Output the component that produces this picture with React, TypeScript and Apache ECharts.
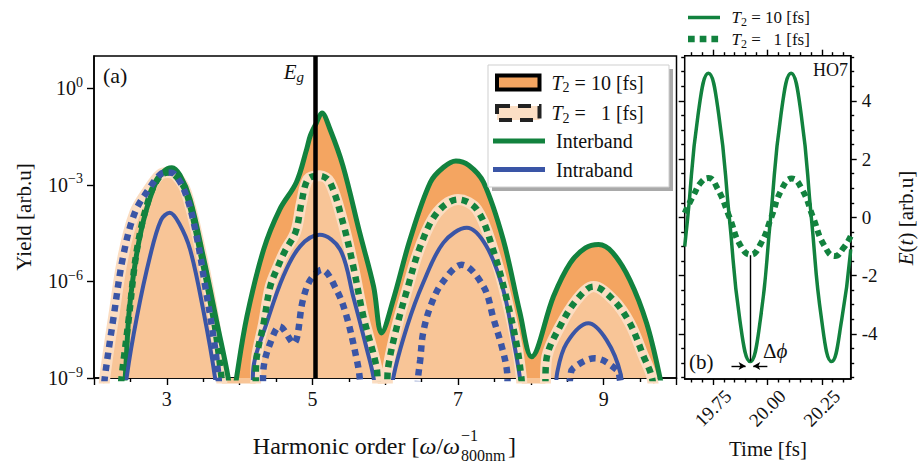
import React, { useEffect, useRef } from 'react';
import * as echarts from 'echarts';

const FONT = "'Liberation Serif', 'DejaVu Serif', serif";
const TXT = '#111';
const GREEN = '#12823E';
const BLUE = '#3A55A6';
const ORANGE = '#F4A561';
const PEACH = '#F8C597';
const PEACH_EDGE = '#FBDDC2';

// ---------- panel (a): harmonic spectrum ----------
const harmonicLabels = [3, 5, 7, 9];
const harmonicMajorTicks = [2, 3, 4, 5, 6, 7, 8, 9, 10];
const harmonicMinorTicks = [2.5, 3.5, 4.5, 5.5, 6.5, 7.5, 8.5, 9.5];
const yieldTicks = [1e-9, 1e-6, 1e-3, 1];
const egHarmonic = 5.04;

// Interband, T2 = 10 fs (solid green, also edge of the dark-orange fill)
const interbandT10: [number, number][] = [
  [2.41, 3e-10], [2.43, 1.1e-9], [2.49, 1.7e-7], [2.63, 2.5e-5], [2.81, 7.2e-4], [2.95, 2.5e-3],
  [3.07, 3.4e-3], [3.18, 2.0e-3], [3.32, 3.5e-4], [3.5, 6.0e-6], [3.69, 5.0e-8], [3.84, 1.1e-9],
  [3.9, 1e-10], [3.96, 1.1e-9], [4.1, 8.1e-8], [4.33, 9.8e-6], [4.55, 1.7e-4], [4.78, 1.2e-3],
  [4.92, 1.26e-2], [4.97, 3.3e-2], [5.05, 8e-2], [5.13, 1.7e-1], [5.24, 5.4e-2], [5.42, 3.8e-3],
  [5.65, 3.2e-5], [5.84, 6.9e-7], [5.95, 2.5e-8], [6.11, 2.7e-7], [6.34, 2.0e-5], [6.62, 1.2e-3],
  [6.8, 3.5e-3], [6.97, 5.5e-3], [7.15, 4.0e-3], [7.35, 1.2e-3], [7.62, 2.0e-5], [7.85, 1.05e-7],
  [8.01, 4.6e-9], [8.31, 3.4e-7], [8.54, 3.7e-6], [8.75, 1.1e-5], [8.93, 1.4e-5], [9.12, 8.0e-6],
  [9.36, 1.1e-6], [9.59, 5.0e-8], [9.77, 1.1e-9], [9.82, 2e-10],
];

// Interband, T2 = 1 fs (dotted green)
const interbandT1: [number, number][] = [
  [2.36, 3e-10], [2.38, 1.1e-9], [2.47, 5.0e-8], [2.59, 9.8e-6], [2.75, 3.5e-4], [2.9, 1.8e-3],
  [3.02, 2.4e-3], [3.14, 1.7e-3], [3.27, 5.6e-4], [3.46, 9.8e-6], [3.64, 8.1e-8], [3.75, 1.1e-9],
  [3.78, 2e-10],
  [4.2, 3e-10], [4.235, 4.6e-9], [4.33, 5.0e-8], [4.42, 6.9e-7], [4.53, 3.0e-6], [4.62, 8.5e-6],
  [4.77, 3.5e-5], [4.85, 2.8e-4], [4.94, 1.5e-3], [5.1, 1.9e-3], [5.24, 1.2e-3], [5.42, 6.6e-5],
  [5.56, 3.0e-6], [5.7, 8.1e-8], [5.88, 2.2e-9], [5.92, 3e-10],
  [6.01, 3e-10], [6.04, 2.2e-9], [6.16, 4.0e-8], [6.3, 5.5e-7], [6.48, 1.2e-5], [6.71, 1.35e-4],
  [7.0, 3.5e-4], [7.26, 1.7e-4], [7.48, 9.8e-6], [7.67, 2.7e-7], [7.81, 9.5e-9], [7.87, 1e-9],
  [7.9, 2e-10],
  [8.18, 2e-10], [8.22, 4.6e-9], [8.4, 4.0e-8], [8.63, 2.7e-7], [8.86, 6.9e-7], [9.13, 2.7e-7],
  [9.36, 5.0e-8], [9.55, 4.6e-9], [9.66, 1.1e-9], [9.7, 2e-10],
];

// Intraband, T2 = 10 fs (solid blue)
const intrabandT10: [number, number][] = [
  [2.43, 2e-10], [2.45, 1.1e-9], [2.59, 8.1e-8], [2.77, 6.0e-6], [2.92, 8e-5], [3.04, 1.35e-4],
  [3.17, 6.3e-5], [3.32, 9.8e-6], [3.5, 1.3e-7], [3.66, 1.1e-9], [3.68, 2e-10],
  [4.17, 2e-10], [4.19, 2.2e-9], [4.37, 5.0e-8], [4.6, 1.45e-6], [4.83, 1.23e-5], [5.1, 2.8e-5],
  [5.38, 9.8e-6], [5.56, 3.4e-7], [5.75, 7.4e-9], [5.84, 1e-9], [5.86, 2e-10],
  [6.09, 2e-10], [6.11, 1e-9], [6.3, 4.0e-8], [6.52, 8.9e-7], [6.8, 1.6e-5], [7.12, 4.6e-5],
  [7.39, 1.23e-5], [7.62, 5.5e-7], [7.76, 1.5e-8], [7.85, 1e-9], [7.87, 2e-10],
  [8.33, 2e-10], [8.36, 1.4e-9], [8.49, 1.2e-8], [8.79, 5.0e-8], [9.04, 1.5e-8], [9.23, 1.4e-9],
  [9.26, 2e-10],
];

// Intraband, T2 = 1 fs (dotted blue)
const intrabandT1: [number, number][] = [
  [2.13, 3e-10], [2.15, 1.1e-9], [2.27, 8.1e-8], [2.4, 6.0e-6], [2.56, 1.35e-4], [2.75, 7.2e-4],
  [2.91, 2.1e-3], [3.01, 2.4e-3], [3.11, 2.1e-3], [3.27, 4.5e-4], [3.41, 2.5e-5], [3.52, 8.9e-7],
  [3.64, 1.95e-8], [3.71, 1.1e-9], [3.73, 2e-10],
  [4.31, 2e-10], [4.33, 2.2e-9], [4.42, 1.2e-8], [4.55, 4.0e-8], [4.74, 1.2e-8], [4.87, 2.7e-7],
  [4.97, 1.1e-6], [5.13, 2.3e-6], [5.33, 5.5e-7], [5.47, 8.1e-8], [5.61, 3.6e-9], [5.65, 1e-9],
  [5.67, 2e-10],
  [6.43, 2e-10], [6.45, 1e-9], [6.48, 3.6e-9], [6.52, 2.5e-8], [6.62, 1.66e-7], [6.78, 8.9e-7],
  [7.05, 3.3e-6], [7.35, 6.9e-7], [7.49, 6.5e-8], [7.6, 9.5e-9], [7.67, 1.8e-9], [7.7, 2e-10],
  [8.5, 2e-10], [8.54, 1e-9], [8.58, 2e-9], [8.88, 4.1e-9], [9.18, 1.8e-9], [9.22, 1e-9],
  [9.25, 2e-10],
];

// Total yield envelope for T2 = 1 fs around HO3 (light peach fill)
const totalT1Ho3: [number, number][] = [
  [2.13, 3e-10], [2.15, 1.1e-9], [2.27, 8.1e-8], [2.4, 6.0e-6], [2.56, 1.35e-4], [2.75, 7.2e-4],
  [2.91, 2.1e-3], [3.02, 2.4e-3], [3.14, 1.8e-3], [3.27, 5.6e-4], [3.46, 9.8e-6], [3.64, 8.1e-8],
  [3.75, 1.1e-9], [3.78, 2e-10],
];

// ---------- panel (b): HO7 field ----------
const timeTicks = [19.75, 20.0, 20.25];
const timeMinorTicks = [19.65, 19.7, 19.8, 19.85, 19.9, 19.95, 20.05, 20.1, 20.15, 20.2, 20.3, 20.35];
const fieldTicks = [-4, -2, 0, 2, 4];
const fieldMinorTicks = [-5.5, -5, -4.5, -3.5, -3, -2.5, -1.5, -1, -0.5, 0.5, 1, 1.5, 2.5, 3, 3.5, 4.5, 5, 5.5];

const fieldT10: [number, number][] = [
  [19.62, -1.0], [19.634, 0], [19.681, 3.5], [19.729, 4.95], [19.777, 3.5], [19.825, 0],
  [19.873, -3.5], [19.921, -4.95], [19.968, -3.5], [20.015, 0], [20.062, 3.5], [20.109, 4.95],
  [20.156, 3.5], [20.202, 0], [20.249, -3.5], [20.295, -4.95], [20.342, -3.5], [20.383, -1.1],
];
const fieldT1: [number, number][] = [
  [19.62, 0.15], [19.66, 0.75], [19.695, 1.2], [19.729, 1.35], [19.77, 1.0], [19.826, 0],
  [19.875, -0.95], [19.923, -1.28], [19.97, -0.9], [20.018, 0], [20.065, 0.95], [20.112, 1.33],
  [20.16, 0.95], [20.21, 0], [20.26, -0.95], [20.311, -1.33], [20.35, -1.05], [20.383, -0.65],
];
const dphiTime = 19.923;

const line = { color: '#000', width: 1.4 };

function hiddenAxisBase(extra: any) {
  return {
    type: 'value',
    axisLine: { show: false, onZero: false },
    axisLabel: { show: false },
    splitLine: { show: false },
    ...extra,
  };
}

const tSub = (sz: number) => ({
  i: { fontFamily: FONT, fontStyle: 'italic', fontSize: sz, fill: TXT, lineHeight: sz + 4 },
  s: { fontFamily: FONT, fontSize: Math.round(sz * 0.7), fill: TXT, verticalAlign: 'bottom', lineHeight: Math.round(sz * 0.7) },
  n: { fontFamily: FONT, fontSize: sz, fill: TXT, lineHeight: sz + 4 },
});

function txt(x: number, y: number, text: string, size: number, extra: any = {}, rotation = 0) {
  return {
    type: 'text', x, y, z: 110, rotation,
    style: { text, fontFamily: FONT, fontSize: size, fill: TXT, align: 'left', verticalAlign: 'middle', ...extra },
  };
}

const graphics: any[] = [
  // legend (a)
  { type: 'rect', z: 100, shape: { x: 492, y: 69, width: 181, height: 122 }, style: { fill: '#a9a9a9' } },
  { type: 'rect', z: 101, shape: { x: 488, y: 65, width: 181, height: 122 }, style: { fill: '#fff', stroke: '#cfcfcf', lineWidth: 1 } },
  { type: 'rect', z: 102, shape: { x: 497, y: 75.5, width: 42.5, height: 14 }, style: { fill: ORANGE, stroke: '#000', lineWidth: 4 } },
  { type: 'rect', z: 102, shape: { x: 497, y: 106, width: 42.5, height: 14 }, style: { fill: '#FCDFC5', stroke: '#222', lineWidth: 4, lineDash: [13, 8] } },
  { type: 'line', z: 102, shape: { x1: 493, y1: 141, x2: 545, y2: 141 }, style: { stroke: GREEN, lineWidth: 5 } },
  { type: 'line', z: 102, shape: { x1: 493, y1: 169.5, x2: 545, y2: 169.5 }, style: { stroke: BLUE, lineWidth: 5 } },
  { type: 'text', z: 110, x: 551.5, y: 82.5, style: { text: '{i|T}{s|2}{n| = 10 [fs]}', rich: tSub(20), verticalAlign: 'middle' } },
  { type: 'text', z: 110, x: 551.5, y: 113, style: { text: '{i|T}{s|2}{n| =\u00a0\u00a0\u00a01 [fs]}', rich: tSub(20), verticalAlign: 'middle' } },
  txt(556, 141, 'Interband', 20),
  txt(556, 169.5, 'Intraband', 20),
  // legend (b)
  { type: 'line', z: 102, shape: { x1: 688, y1: 17.5, x2: 720, y2: 17.5 }, style: { stroke: GREEN, lineWidth: 3.5 } },
  { type: 'line', z: 102, shape: { x1: 688, y1: 39, x2: 720, y2: 39 }, style: { stroke: GREEN, lineWidth: 6.5, lineDash: [6.7, 5] } },
  { type: 'text', z: 110, x: 731.5, y: 17, style: { text: '{i|T}{s|2}{n| = 10 [fs]}', rich: tSub(17), verticalAlign: 'middle' } },
  { type: 'text', z: 110, x: 731.5, y: 39, style: { text: '{i|T}{s|2}{n| =\u00a0\u00a0\u00a01 [fs]}', rich: tSub(17), verticalAlign: 'middle' } },
  // annotations (a)
  txt(103, 75, '(a)', 22),
  { type: 'text', z: 110, x: 304, y: 72, style: { text: '{i|E}{s|g}', align: 'right', verticalAlign: 'middle', rich: { ...tSub(21), s: { ...tSub(21).s, fontStyle: 'italic' } } } },
  // annotations (b)
  txt(848, 70, 'HO7', 18, { align: 'right' }),
  txt(689, 362, '(b)', 21),
  { type: 'text', z: 110, x: 763, y: 351, style: { text: '{n|Δ}{i|ϕ}', rich: tSub(21), verticalAlign: 'middle' } },
  // axis titles
  txt(24, 217, 'Yield [arb.u]', 21, { align: 'center' }, Math.PI / 2),
  { type: 'text', z: 110, x: 906, y: 218, rotation: Math.PI / 2, style: { text: '{i|E}{n|(}{i|t}{n|) [arb.u]}', rich: tSub(21), align: 'center', verticalAlign: 'middle' } },
  txt(768, 449, 'Time [fs]', 21, { align: 'center' }),
  { type: 'text', z: 110, x: 460, y: 446, style: { text: '{n|Harmonic order [}{i|ω}{n|/}{i|ω}', rich: tSub(24), align: 'right', verticalAlign: 'middle' } },
  txt(461, 435, '−1', 16),
  txt(461, 455, '800nm', 16),
  txt(508, 446, ']', 24),
];

const totalT1 = [...totalT1Ho3, ...interbandT1.filter((p) => p[0] > 4)];

const option: any = {
  animation: false,
  backgroundColor: '#fff',
  grid: [
    { left: 94, top: 56, width: 582.5, height: 322, show: true, borderColor: '#000', borderWidth: 1.5, backgroundColor: 'transparent' },
    { left: 684.7, top: 55.7, width: 166, height: 323.3, show: true, borderColor: '#000', borderWidth: 1.5, backgroundColor: 'transparent' },
  ],
  xAxis: [
    {
      type: 'value', gridIndex: 0, min: 2, max: 10, position: 'bottom',
      axisLine: { show: true, onZero: false, lineStyle: { color: '#000', width: 1.5 } },
      axisTick: { show: true, customValues: harmonicMajorTicks, length: 7, lineStyle: line },
      axisLabel: { show: true, customValues: harmonicLabels, margin: 11, fontSize: 20, fontFamily: FONT, color: TXT },
      splitLine: { show: false },
    },
    hiddenAxisBase({ gridIndex: 0, min: 2, max: 10, position: 'bottom', axisTick: { show: true, customValues: harmonicMinorTicks, length: 4, lineStyle: line } }),
    {
      type: 'value', gridIndex: 1, min: 19.62, max: 20.383, position: 'bottom',
      axisLine: { show: true, onZero: false, lineStyle: { color: '#000', width: 1.5 } },
      axisTick: { show: true, customValues: timeTicks, length: 6, lineStyle: line },
      axisLabel: {
        show: true, customValues: timeTicks, formatter: (v: number) => v.toFixed(2), rotate: 45,
        align: 'center', verticalAlign: 'middle', margin: 29, fontSize: 19, fontFamily: FONT, color: TXT,
      },
      splitLine: { show: false },
    },
    hiddenAxisBase({ gridIndex: 1, min: 19.62, max: 20.383, position: 'bottom', axisTick: { show: true, customValues: timeMinorTicks, length: 3.5, lineStyle: line } }),
    hiddenAxisBase({ gridIndex: 1, min: 19.62, max: 20.383, position: 'top', axisTick: { show: true, customValues: timeTicks, length: 6, lineStyle: line } }),
    hiddenAxisBase({ gridIndex: 1, min: 19.62, max: 20.383, position: 'top', axisTick: { show: true, customValues: timeMinorTicks, length: 3.5, lineStyle: line } }),
  ],
  yAxis: [
    {
      type: 'log', logBase: 10, gridIndex: 0, min: 1e-9, max: 10, position: 'left',
      axisLine: { show: true, onZero: false, lineStyle: { color: '#000', width: 1.5 } },
      axisTick: { show: true, customValues: yieldTicks, length: 7, lineStyle: line },
      axisLabel: {
        show: true, customValues: yieldTicks, margin: 11,
        formatter: (v: number) => {
          const e = Math.round(Math.log10(v));
          return `{b|10}{s|${e < 0 ? '\u2212' + -e : e}}`;
        },
        rich: {
          b: { fontSize: 20, fontFamily: FONT, color: TXT, lineHeight: 26 },
          s: { fontSize: 14, fontFamily: FONT, color: TXT, verticalAlign: 'top', lineHeight: 14 },
        },
      },
      splitLine: { show: false },
      minorTick: { show: false },
    },
    {
      type: 'value', gridIndex: 1, min: -5.55, max: 5.55, position: 'right',
      axisLine: { show: true, onZero: false, lineStyle: { color: '#000', width: 1.5 } },
      axisTick: { show: true, customValues: fieldTicks, length: 6, lineStyle: line },
      axisLabel: { show: true, customValues: fieldTicks, margin: 11, fontSize: 19, fontFamily: FONT, color: TXT, formatter: (v: number) => String(v) },
      splitLine: { show: false },
    },
    hiddenAxisBase({ gridIndex: 1, min: -5.55, max: 5.55, position: 'right', axisTick: { show: true, customValues: fieldMinorTicks, length: 3.5, lineStyle: line } }),
    hiddenAxisBase({ gridIndex: 1, min: -5.55, max: 5.55, position: 'left', axisTick: { show: true, customValues: fieldTicks, length: 6, lineStyle: line } }),
    hiddenAxisBase({ gridIndex: 1, min: -5.55, max: 5.55, position: 'left', axisTick: { show: true, customValues: fieldMinorTicks, length: 3.5, lineStyle: line } }),
  ],
  series: [
    {
      name: 'T2 = 10 fill', type: 'line', xAxisIndex: 0, yAxisIndex: 0, data: interbandT10, smooth: 0.35,
      symbol: 'none', lineStyle: { width: 0 }, areaStyle: { color: ORANGE, opacity: 1, origin: 'start' }, z: 1, silent: true,
    },
    {
      name: 'T2 = 1 fill', type: 'line', xAxisIndex: 0, yAxisIndex: 0, data: totalT1, smooth: 0.35,
      symbol: 'none', lineStyle: { width: 11, color: PEACH_EDGE }, areaStyle: { color: PEACH, opacity: 1, origin: 'start' }, z: 1, silent: true,
    },
    {
      name: 'Interband T2=10', type: 'line', xAxisIndex: 0, yAxisIndex: 0, data: interbandT10, smooth: 0.35,
      symbol: 'none', lineStyle: { width: 5, color: GREEN }, z: 2, silent: true,
    },
    {
      name: 'Intraband T2=10', type: 'line', xAxisIndex: 0, yAxisIndex: 0, data: intrabandT10, smooth: 0.35,
      symbol: 'none', lineStyle: { width: 4, color: BLUE }, z: 2, silent: true,
    },
    {
      name: 'Interband T2=1', type: 'line', xAxisIndex: 0, yAxisIndex: 0, data: interbandT1, smooth: 0.35,
      symbol: 'none', lineStyle: { width: 6.5, color: GREEN, type: [6.5, 5.5], cap: 'butt' }, z: 3, silent: true,
    },
    {
      name: 'Intraband T2=1', type: 'line', xAxisIndex: 0, yAxisIndex: 0, data: intrabandT1, smooth: 0.35,
      symbol: 'none', lineStyle: { width: 6.5, color: BLUE, type: [6.5, 5.5], cap: 'butt' }, z: 3, silent: true,
      markLine: {
        silent: true, symbol: ['none', 'none'], label: { show: false },
        lineStyle: { color: '#000', width: 4.5, type: 'solid' },
        data: [{ xAxis: egHarmonic }],
      },
    },
    {
      name: 'E T2=10', type: 'line', xAxisIndex: 2, yAxisIndex: 1, data: fieldT10, smooth: 0.5,
      symbol: 'none', lineStyle: { width: 3.5, color: GREEN }, z: 2, silent: true,
    },
    {
      name: 'E T2=1', type: 'line', xAxisIndex: 2, yAxisIndex: 1, data: fieldT1, smooth: 0.5,
      symbol: 'none', lineStyle: { width: 6, color: GREEN, type: [6, 4.5], cap: 'butt' }, z: 3, silent: true,
      markLine: {
        silent: true, label: { show: false }, symbolSize: [6, 7],
        lineStyle: { color: '#000', width: 1.4, type: 'solid' },
        data: [
          [{ coord: [dphiTime, -1.3], symbol: 'none' }, { coord: [dphiTime, -4.95], symbol: 'none' }],
          [{ coord: [19.835, -5.1], symbol: 'none' }, { coord: [19.9, -5.1], symbol: 'arrow' }],
          [{ coord: [20.0, -5.1], symbol: 'none' }, { coord: [19.935, -5.1], symbol: 'arrow' }],
        ],
      },
    },
  ],
  graphic: graphics,
};

export default function App() {
  const ref = useRef<HTMLDivElement>(null);
  useEffect(() => {
    const chart = echarts.init(ref.current!, null, { renderer: 'svg' });
    chart.setOption(option);
    return () => chart.dispose();
  }, []);
  return <div ref={ref} style={{ position: 'fixed', left: 0, top: 0, width: 918, height: 465 }} />;
}
